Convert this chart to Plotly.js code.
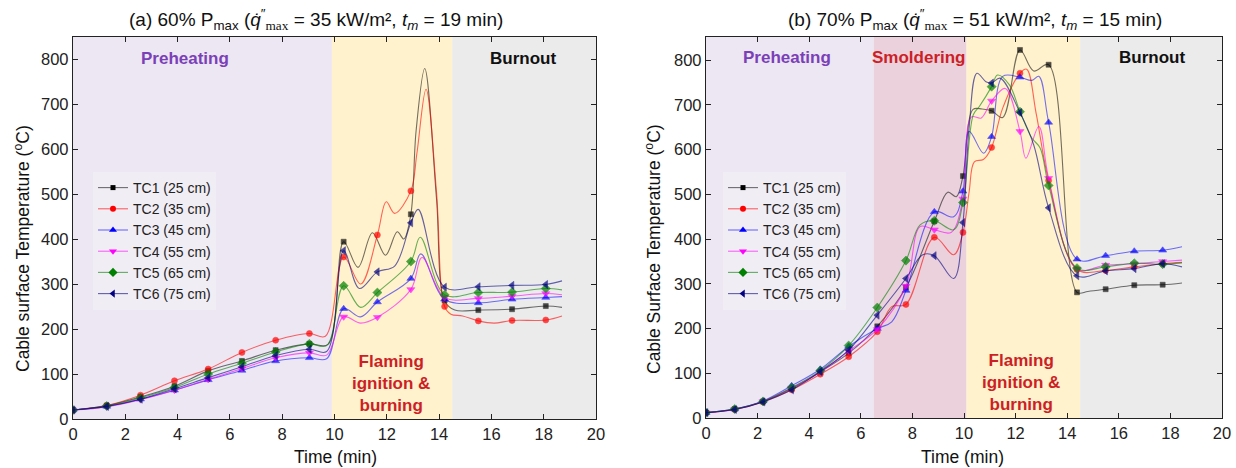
<!DOCTYPE html>
<html><head><meta charset="utf-8">
<script src="https://cdn.plot.ly/plotly-3.0.1.min.js"></script>
<style>html,body{margin:0;padding:0;background:#fff}#chart{width:1236px;height:468px}</style>
</head><body><div id="chart"></div>
<script>
// ---------- shared ----------
const seriesNames = ['TC1 (25 cm)','TC2 (35 cm)','TC3 (45 cm)','TC4 (55 cm)','TC5 (65 cm)','TC6 (75 cm)'];
const seriesColors = ['#000000','#ff0000','#0000ff','#ff00ff','#008000','#000080'];
const lineColors = ['rgba(0,0,0,0.55)','rgba(255,0,0,0.6)','rgba(0,0,255,0.55)','rgba(255,0,255,0.6)','rgba(0,128,0,0.6)','rgba(0,0,128,0.6)'];
const seriesSymbols = ['square','circle','triangle-up','triangle-down','diamond','triangle-left'];
const symbolSizes = [5,6,7,7,7,7];

// ---------- panel (a) 60% Pmax ----------
const markerTimesA = [0,1.29,2.58,3.88,5.17,6.46,7.75,9.04,10.35,11.64,12.92,14.21,15.5,16.79,18.08];
const tA_TC1 = [0,1.29,2.58,3.88,5.17,6.46,7.75,9.04,9.75,10.35,10.9,11.45,11.95,12.4,12.65,12.92,13.12,13.45,13.9,14.21,14.6,15.5,16.79,18.08,18.7];
const TA_TC1 = [20,30,49,73,107,129,153,167,166,394,337,414,364,416,400,455,640,779,490,263,242,242,244,251,248];
const tA_TC2 = [0,1.29,2.58,3.88,5.17,6.46,7.75,9.04,9.65,10.35,11.0,11.64,11.98,12.3,12.92,13.15,13.5,13.9,14.21,14.45,14.9,15.5,16.1,16.79,18.08,18.7];
const TA_TC2 = [20,30,53,85,111,148,175,190,184,360,300,409,483,457,507,590,733,505,250,233,229,218,213,219,220,229];
const tA_TC3 = [0,1.29,2.58,3.88,5.17,6.46,7.75,9.04,9.7,10.35,11.0,11.64,12.92,13.3,14.21,15.5,16.79,18.08,18.7];
const TA_TC3 = [20,28,44,64,87,108,129,136,134,245,227,260,312,367,266,258,266,270,272];
const tA_TC4 = [0,1.29,2.58,3.88,5.17,6.46,7.75,9.04,9.7,10.35,11.0,11.64,12.92,13.35,14.21,15.5,16.79,18.08,18.7];
const TA_TC4 = [20,27,43,64,88,112,136,147,142,227,213,226,288,359,270,268,273,279,276];
const tA_TC5 = [0,1.29,2.58,3.88,5.17,6.46,7.75,9.04,9.7,10.35,11.0,11.64,12.92,13.28,14.21,15.5,16.79,18.08,18.7];
const TA_TC5 = [20,29,47,70,100,124,149,167,163,296,248,281,350,404,276,281,282,290,287];
const tA_TC6 = [0,1.29,2.58,3.88,5.17,6.46,7.75,9.04,9.7,10.35,10.95,11.64,12.3,12.92,13.2,14.21,15.5,16.79,18.08,18.7];
const TA_TC6 = [20,28,44,67,92,116,141,155,150,374,290,327,340,436,466,293,294,297,299,307];
const phaseStartA = [0, 9.9, 14.5];
const phaseEndA = [9.9, 14.5, 20];

// ---------- panel (b) 70% Pmax ----------
const markerTimesB = [0,1.11,2.21,3.32,4.43,5.53,6.64,7.75,8.85,9.96,11.07,12.17,13.28,14.38,15.49,16.6,17.7];
const tB_TC1 = [0,1.11,2.21,3.32,4.43,5.53,6.64,7.75,8.85,9.37,9.7,9.96,10.35,10.7,11.07,11.5,12.17,12.7,13.28,14.38,14.8,15.49,16.6,17.7,18.45];
const TB_TC1 = [12,20,37,66,103,145,205,292,440,505,495,541,690,691,687,672,823,776,790,281,283,288,297,298,302];
const tB_TC2 = [0,1.11,2.21,3.32,4.43,5.53,6.64,7.2,7.75,8.85,9.6,9.96,10.2,10.4,10.75,11.07,11.5,12.17,12.43,12.8,13.28,14.38,15.49,16.6,17.7,18.45];
const TB_TC2 = [12,19,36,63,98,137,193,249,254,404,365,415,506,573,578,605,693,771,780,680,531,332,330,338,345,348];
const tB_TC3 = [0,1.11,2.21,3.32,4.43,5.53,6.64,7.2,7.75,8.85,9.6,9.96,10.2,10.76,11.07,11.5,12.17,12.63,12.9,13.28,14.38,15.49,16.6,17.7,18.45];
const TB_TC3 = [12,20,38,72,109,160,200,215,285,461,450,507,641,592,629,764,762,755,764,661,355,363,373,375,383];
const tB_TC4 = [0,1.11,2.21,3.32,4.43,5.53,6.64,7.75,8.3,8.85,9.5,9.96,10.28,10.67,11.07,11.6,12.17,12.4,12.9,13.28,14.38,15.49,16.6,17.7,18.45];
const TB_TC4 = [12,19,37,67,103,150,198,295,428,421,415,490,673,671,709,737,641,581,652,536,333,342,345,350,353];
const tB_TC5 = [0,1.11,2.21,3.32,4.43,5.53,6.64,7.75,8.3,8.85,9.6,9.96,10.36,10.6,11.07,11.3,11.76,12.17,12.63,12.95,13.28,14.38,15.49,16.6,17.7,18.45];
const TB_TC5 = [12,20,37,68,106,162,247,352,432,441,421,482,678,697,741,767,745,685,626,604,520,335,338,346,344,347];
const tB_TC6 = [0,1.11,2.21,3.32,4.43,5.53,6.64,7.75,8.4,8.85,9.6,9.96,10.2,10.5,10.85,11.07,11.4,12.17,12.7,13.28,14.38,15.49,16.6,17.7,18.45];
const TB_TC6 = [12,19,36,63,104,152,230,312,365,363,312,437,650,771,752,749,760,683,611,470,318,329,334,345,338];
const phaseStartB = [0, 6.5, 10.1, 14.5];
const phaseEndB = [6.5, 10.1, 14.5, 20];

// ---------- build ----------
const FONT = 'Liberation Sans, Arial, sans-serif';
const panelA = {t:[tA_TC1,tA_TC2,tA_TC3,tA_TC4,tA_TC5,tA_TC6], T:[TA_TC1,TA_TC2,TA_TC3,TA_TC4,TA_TC5,TA_TC6], m:markerTimesA, xa:'x', ya:'y', lg:'legend'};
const panelB = {t:[tB_TC1,tB_TC2,tB_TC3,tB_TC4,tB_TC5,tB_TC6], T:[TB_TC1,TB_TC2,TB_TC3,TB_TC4,TB_TC5,TB_TC6], m:markerTimesB, xa:'x2', ya:'y2', lg:'legend2'};
const traces = [];
[panelA, panelB].forEach(p => {
  for (let i = 0; i < 6; i++) {
    traces.push({
      type:'scatter', mode:'lines+markers', x:p.t[i], y:p.T[i], xaxis:p.xa, yaxis:p.ya,
      line:{color:lineColors[i], width:1.1, shape:'spline', smoothing:1},
      marker:{symbol:seriesSymbols[i], color:seriesColors[i], size:p.t[i].map(v => p.m.includes(v) ? symbolSizes[i] : 0)},
      showlegend:false, hoverinfo:'skip', cliponaxis:true
    });
  }
  for (let i = 0; i < 6; i++) {
    traces.push({
      type:'scatter', mode:'lines+markers', x:[null], y:[null], xaxis:p.xa, yaxis:p.ya,
      name:seriesNames[i], legend:p.lg,
      line:{color:lineColors[i], width:1.1},
      marker:{symbol:seriesSymbols[i], color:seriesColors[i], size:symbolSizes[i]}
    });
  }
});

const phaseColorsA = ['#ece7f2','#fff2cc','#ebebeb'];
const phaseColorsB = ['#ece7f2','#ead1dc','#fff2cc','#ebebeb'];
const shapes = [];
phaseStartA.forEach((s,i) => shapes.push({type:'rect', xref:'x', yref:'y domain', x0:s, x1:phaseEndA[i], y0:0, y1:1, fillcolor:phaseColorsA[i], line:{width:0}, layer:'below'}));
phaseStartB.forEach((s,i) => shapes.push({type:'rect', xref:'x2', yref:'y2 domain', x0:s, x1:phaseEndB[i], y0:0, y1:1, fillcolor:phaseColorsB[i], line:{width:0}, layer:'below'}));

const PURPLE = '#7b3fb8', RED = '#cc1f26';
function lab(text, xref, yref, x, y, color) {
  return {text:'<b>'+text+'</b>', xref:xref, yref:yref, x:x, y:y, showarrow:false, font:{family:FONT, size:17, color:color}, xanchor:'center', yanchor:'middle'};
}
const annotations = [
  lab('Preheating','x','y domain',4.3,0.945,PURPLE),
  lab('Burnout','x','y domain',17.2,0.945,'#111'),
  lab('Flaming<br>ignition &<br>burning','x','y domain',12.15,0.092,RED),
  lab('Preheating','x2','y2 domain',3.15,0.945,PURPLE),
  lab('Smoldering','x2','y2 domain',8.25,0.945,RED),
  lab('Burnout','x2','y2 domain',17.3,0.945,'#111'),
  lab('Flaming<br>ignition &<br>burning','x2','y2 domain',12.2,0.092,RED),
  {text:'(a) 60% P<sub>max</sub> (<i>q̇</i><sup>″</sup><span style="font-family:Liberation Serif"><sub>max</sub></span> = 35 kW/m², <i>t<sub>m</sub></i> = 19 min)', xref:'paper', yref:'paper', x:127/1236, y:1-20/468, xanchor:'left', yanchor:'middle', showarrow:false, font:{family:FONT,size:19,color:'#111'}},
  {text:'(b) 70% P<sub>max</sub> (<i>q̇</i><sup>″</sup><span style="font-family:Liberation Serif"><sub>max</sub></span> = 51 kW/m², <i>t<sub>m</sub></i> = 15 min)', xref:'paper', yref:'paper', x:786/1236, y:1-20/468, xanchor:'left', yanchor:'middle', showarrow:false, font:{family:FONT,size:19,color:'#111'}},
  {text:'Cable surface Temperature (<sup>o</sup>C)', xref:'paper', yref:'paper', x:22/1236, y:1-249/468, textangle:-90, xanchor:'center', yanchor:'middle', showarrow:false, font:{family:FONT,size:17.5,color:'#111'}},
  {text:'Cable Surface Temperature (<sup>o</sup>C)', xref:'paper', yref:'paper', x:653/1236, y:1-249/468, textangle:-90, xanchor:'center', yanchor:'middle', showarrow:false, font:{family:FONT,size:17.5,color:'#111'}},
  {text:'Time (min)', xref:'paper', yref:'paper', x:335/1236, y:1-457/468, xanchor:'center', yanchor:'middle', showarrow:false, font:{family:FONT,size:17.5,color:'#111'}},
  {text:'Time (min)', xref:'paper', yref:'paper', x:962/1236, y:1-457/468, xanchor:'center', yanchor:'middle', showarrow:false, font:{family:FONT,size:17.5,color:'#111'}}
];

function xax(dom, anchor) {
  return {domain:dom, anchor:anchor, range:[0,20], dtick:2, tick0:0, ticks:'inside', ticklen:5, tickwidth:1, tickcolor:'#222',
    mirror:'ticks', showline:true, linecolor:'#222', linewidth:1.2, showgrid:false, zeroline:false,
    tickfont:{family:FONT,size:16.5,color:'#222'}};
}
function yax(dom, anchor, top) {
  return {domain:dom, anchor:anchor, range:[0,top], dtick:100, tick0:0, ticks:'inside', ticklen:5, tickwidth:1, tickcolor:'#222',
    mirror:'ticks', showline:true, linecolor:'#222', linewidth:1.2, showgrid:false, zeroline:false,
    tickfont:{family:FONT,size:16.5,color:'#222'}};
}
const legendStyle = {font:{family:FONT,size:14,color:'#222'}, bgcolor:'rgba(255,255,255,0.25)', borderwidth:0, xanchor:'left', yanchor:'top', tracegroupgap:0};
const layout = {
  width:1236, height:468, margin:{l:0,r:0,t:0,b:0}, paper_bgcolor:'#fff', plot_bgcolor:'#fff',
  font:{family:FONT},
  xaxis:xax([73/1236, 596/1236],'y'),
  yaxis:yax([1-419/468, 1-37/468],'x',849),
  xaxis2:xax([706/1236, 1222/1236],'y2'),
  yaxis2:yax([1-418/468, 1-37/468],'x2',852),
  legend:Object.assign({x:93/1236, y:1-172/468}, legendStyle),
  legend2:Object.assign({x:723/1236, y:1-172/468}, legendStyle),
  shapes:shapes, annotations:annotations
};
Plotly.newPlot('chart', traces, layout, {displayModeBar:false, staticPlot:true});
</script>
</body></html>
